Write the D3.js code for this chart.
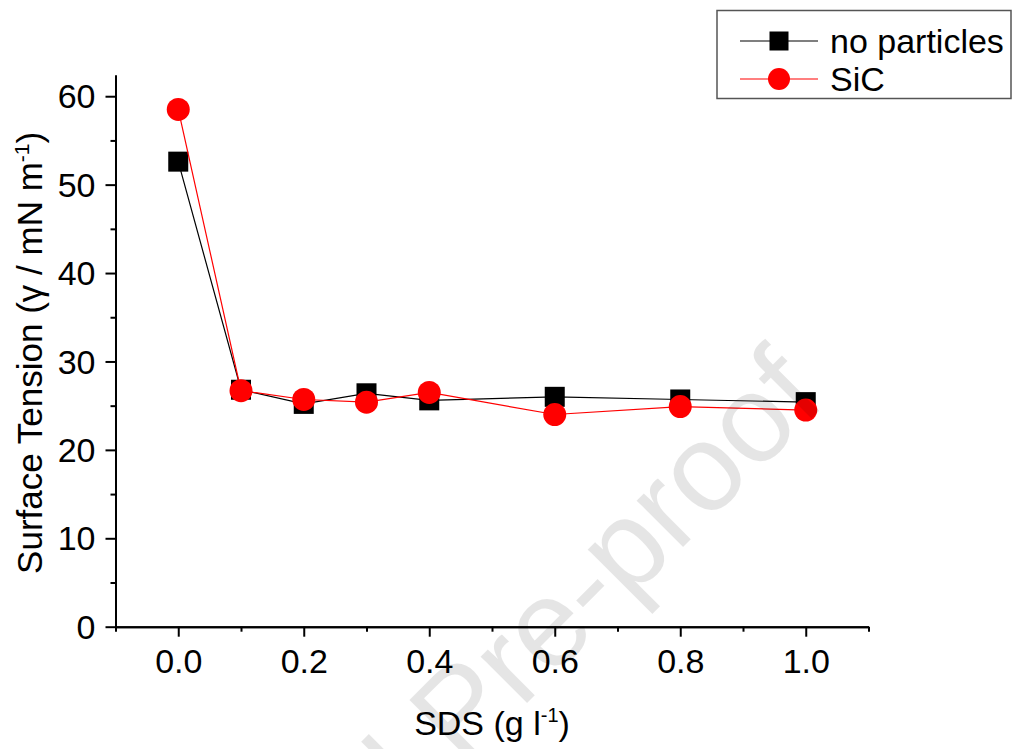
<!DOCTYPE html>
<html>
<head>
<meta charset="utf-8">
<script src="https://cdn.jsdelivr.net/npm/d3@7"></script>
<style>
  html, body { margin: 0; padding: 0; background: #fff; }
  svg { display: block; }
  svg text { font-family: "Liberation Sans", Arial, Helvetica, sans-serif; }
</style>
</head>
<body>
<svg id="chart" width="1012" height="749"></svg>
<script>
// ---- data ----
const sds = [0.0, 0.1, 0.2, 0.3, 0.4, 0.6, 0.8, 1.0];
const noParticles = [52.6, 26.8, 25.2, 26.4, 25.6, 26.0, 25.7, 25.4];
const sic = [58.5, 26.7, 25.7, 25.4, 26.5, 24.0, 24.9, 24.5];
const seriesNames = ["no particles", "SiC"];
const xTicks = [0.0, 0.2, 0.4, 0.6, 0.8, 1.0];
const xMinorTicks = [-0.1, 0.1, 0.3, 0.5, 0.7, 0.9, 1.1];
const yTicks = [0, 10, 20, 30, 40, 50, 60];
const yMinorTicks = [5, 15, 25, 35, 45, 55];

const svg = d3.select("#chart");
const L = 115.5, R = 868.5, T = 75, B = 626.7;
const x = d3.scaleLinear().domain([-0.1, 1.1]).range([L, R]);
const y = d3.scaleLinear().domain([0, 62.4]).range([B, T]);
const FS = 34;
const FONT = '"Liberation Sans", Arial, Helvetica, sans-serif';

function styleAxis(g) {
  g.attr("font-family", null).attr("font-size", null);
  g.select(".domain").attr("stroke", "#000").attr("stroke-width", 2);
  g.selectAll(".tick line").attr("stroke", "#000").attr("stroke-width", 2);
  g.selectAll(".tick text").attr("fill", "#000")
    .style("font-size", FS + "px").style("font-family", FONT);
}

// minor ticks
svg.append("g").attr("transform", `translate(0,${B})`)
  .call(d3.axisBottom(x).tickValues(xMinorTicks).tickSize(5).tickSizeOuter(0).tickFormat(""))
  .call(styleAxis);
svg.append("g").attr("transform", `translate(${L},0)`)
  .call(d3.axisLeft(y).tickValues(yMinorTicks).tickSize(5).tickSizeOuter(0).tickFormat(""))
  .call(styleAxis);

// major axes
svg.append("g").attr("transform", `translate(0,${B})`)
  .call(d3.axisBottom(x).tickValues(xTicks).tickSize(10).tickPadding(12).tickSizeOuter(0).tickFormat(d3.format(".1f")))
  .call(styleAxis);
const gy = svg.append("g").attr("transform", `translate(${L},0)`)
  .call(d3.axisLeft(y).tickValues(yTicks).tickSize(10).tickPadding(10).tickSizeOuter(0).tickFormat(d3.format("d")))
  .call(styleAxis);
gy.selectAll(".tick text").attr("dy", "0.34em");

// axis titles
const xt = svg.append("text").attr("x", (L + R) / 2).attr("y", 735)
  .attr("text-anchor", "middle").style("font-size", FS + "px").style("font-family", FONT).attr("fill", "#000");
xt.append("tspan").text("SDS (g l");
xt.append("tspan").text("-1").style("font-size", "20px").attr("dy", "-13");
xt.append("tspan").text(")").attr("dy", "13");

const yt = svg.append("text")
  .attr("transform", `translate(42,${(T + B) / 2 + 2}) rotate(-90)`)
  .attr("text-anchor", "middle").style("font-size", "35px").style("font-family", FONT).attr("fill", "#000");
yt.append("tspan").text("Surface Tension (\u03B3 / mN m");
yt.append("tspan").text("-1").style("font-size", "21px").attr("dy", "-13");
yt.append("tspan").text(")").attr("dy", "13");

// series
const data1 = sds.map((d, i) => [d, noParticles[i]]);
const data2 = sds.map((d, i) => [d, sic[i]]);
const line = d3.line().x(d => x(d[0])).y(d => y(d[1]));

svg.append("path").datum(data1).attr("d", line)
  .attr("fill", "none").attr("stroke", "#000").attr("stroke-width", 1.2);
const SQ = 20;
svg.append("g").selectAll("rect").data(data1).join("rect")
  .attr("x", d => x(d[0]) - SQ / 2).attr("y", d => y(d[1]) - SQ / 2)
  .attr("width", SQ).attr("height", SQ).attr("fill", "#000");

svg.append("path").datum(data2).attr("d", line)
  .attr("fill", "none").attr("stroke", "#ff0000").attr("stroke-width", 1.2);
svg.append("g").selectAll("circle").data(data2).join("circle")
  .attr("cx", d => x(d[0])).attr("cy", d => y(d[1])).attr("r", 11.5)
  .attr("fill", "#ff0000");

// legend
const lg = svg.append("g");
lg.append("rect").attr("x", 717).attr("y", 10.5).attr("width", 294).attr("height", 88)
  .attr("fill", "#fff").attr("stroke", "#555").attr("stroke-width", 1.5);
const rows = [41, 79];
lg.append("line").attr("x1", 740).attr("x2", 818).attr("y1", rows[0]).attr("y2", rows[0])
  .attr("stroke", "#000").attr("stroke-width", 1.2);
lg.append("rect").attr("x", 779 - 9.5).attr("y", rows[0] - 9.5).attr("width", 19).attr("height", 19).attr("fill", "#000");
lg.append("line").attr("x1", 740).attr("x2", 818).attr("y1", rows[1]).attr("y2", rows[1])
  .attr("stroke", "#ff0000").attr("stroke-width", 1.2);
lg.append("circle").attr("cx", 779).attr("cy", rows[1]).attr("r", 11).attr("fill", "#ff0000");
lg.selectAll("text.lab").data(seriesNames).join("text").attr("class", "lab")
  .attr("x", 830).attr("y", (d, i) => rows[i] + 12)
  .style("font-size", FS + "px").style("font-family", FONT).attr("fill", "#000").text(d => d);

// watermark
svg.append("text")
  .attr("transform", "translate(828,402) rotate(-45)")
  .attr("text-anchor", "end")
  .style("font-size", "124px").style("font-family", FONT)
  .attr("fill", "#000").attr("fill-opacity", 0.1)
  .text("Journal Pre-proof");
</script>
</body>
</html>
